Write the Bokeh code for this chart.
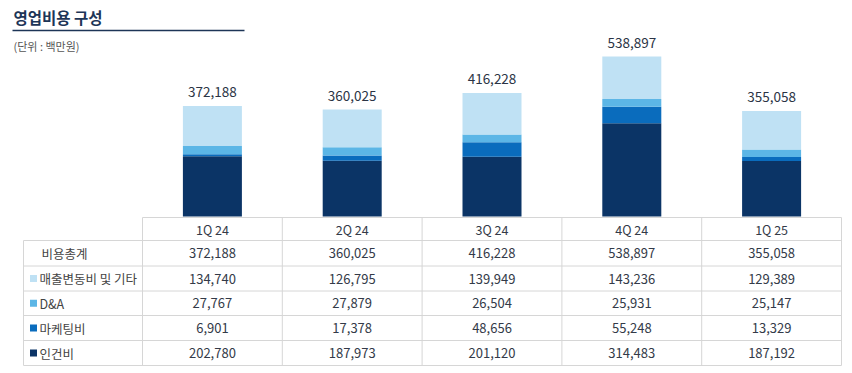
from bokeh.plotting import figure
from bokeh.models import Range1d, ColumnDataSource
from bokeh.core.properties import value
from bokeh.embed import file_html
from bokeh.resources import INLINE

# ---------------- data ----------------
quarters = ["1Q 24", "2Q 24", "3Q 24", "4Q 24", "1Q 25"]
labor = [202780, 187973, 201120, 314483, 187192]        # 인건비
marketing = [6901, 17378, 48656, 55248, 13329]         # 마케팅비
dna = [27767, 27879, 26504, 25931, 25147]              # D&A
variable = [134740, 126795, 139949, 143236, 129389]    # 매출변동비 및 기타
totals = [372188, 360025, 416228, 538897, 355058]      # 비용총계

series_names = ["인건비", "마케팅비", "D&A", "매출변동비 및 기타"]
series_vals = [labor, marketing, dna, variable]
colors = ["#0b3466", "#0a6cbd", "#5cb6e6", "#bfe1f4"]

title = "영업비용 구성"
unit = "(단위 : 백만원)"
total_label = "비용총계"

FONT = "Noto Sans CJK KR"

# ---------------- layout (screen pixels) ----------------
W, H = 844, 367
top, bottom = 0, H
base_y = 216            # bar baseline (screen y)
k = 160 / 538897        # px per unit
col_left = 142
col_w = 139.8
label_left = 23
row_edges = [217, 240, 265.5, 290.5, 315, 340, 365]

p = figure(width=W, height=H, output_backend="svg", toolbar_location=None,
           x_range=Range1d(0, W),
           y_range=Range1d(-(bottom - base_y) / k, (base_y - top) / k),
           min_border=0, min_border_left=0, min_border_right=0,
           min_border_top=0, min_border_bottom=0)
p.extra_y_ranges = {"px": Range1d(start=bottom, end=top)}
p.xaxis.visible = False
p.yaxis.visible = False
p.grid.visible = False
p.outline_line_color = None
p.background_fill_color = "white"
p.border_fill_color = "white"

centers = [col_left + (i + 0.5) * col_w for i in range(len(quarters))]

# ---------------- stacked bars ----------------
data = {"x": centers}
for n, v in zip(series_names, series_vals):
    data[n] = v
src = ColumnDataSource(data)
p.vbar_stack(series_names, x="x", width=59, color=colors, line_color=None, source=src)

tot_src = ColumnDataSource(dict(x=centers, y=totals, t=[f"{v:,}" for v in totals]))
p.text(x="x", y="y", text="t", source=tot_src, text_align="center",
       text_baseline="middle", y_offset=-14, text_font=value(FONT),
       text_font_size="13.5px", text_color="#2b3445")

# ---------------- title ----------------
p.text(x=[13], y=[16], text=[title], y_range_name="px", text_font=value(FONT),
       text_font_size="15.5px", text_font_style="bold", text_color="#1d3557",
       text_baseline="middle")
p.line(x=[12, 244], y=[30, 30], y_range_name="px", line_color="#1d3557", line_width=1.5)
p.text(x=[13], y=[45], text=[unit], y_range_name="px", text_font=value(FONT),
       text_font_size="11px", text_color="#555555", text_baseline="middle")

# ---------------- table ----------------
grid_c = "#d6d6d6"
right = col_left + col_w * len(quarters)
p.line(x=[col_left, right], y=[row_edges[0]] * 2, y_range_name="px", line_color=grid_c, line_width=1)
for yy in row_edges[1:]:
    p.line(x=[label_left, right], y=[yy, yy], y_range_name="px", line_color=grid_c, line_width=1)
p.line(x=[label_left, label_left], y=[row_edges[1], row_edges[-1]], y_range_name="px",
       line_color=grid_c, line_width=1)
for i in range(len(quarters) + 1):
    xx = col_left + i * col_w
    p.line(x=[xx, xx], y=[row_edges[0], row_edges[-1]], y_range_name="px",
           line_color=grid_c, line_width=1)

row_mid = [(row_edges[i] + row_edges[i + 1]) / 2 for i in range(len(row_edges) - 1)]

p.text(x=centers, y=[row_mid[0]] * len(quarters), text=quarters, y_range_name="px",
       text_align="center", text_baseline="middle", text_font=value(FONT),
       text_font_size="12.5px", text_color="#333a48")

table_rows = [totals, variable, dna, marketing, labor]
row_labels = [total_label] + series_names[::-1]
row_colors = [None] + colors[::-1]
for r, (vals, lab, c) in enumerate(zip(table_rows, row_labels, row_colors)):
    ym = row_mid[r + 1]
    p.text(x=centers, y=[ym] * len(vals), text=[f"{v:,}" for v in vals], y_range_name="px",
           text_align="center", text_baseline="middle", text_font=value(FONT),
           text_font_size="13px", text_color="#333a48")
    if c is None:
        p.text(x=[41], y=[ym], text=[lab], y_range_name="px", text_baseline="middle",
               text_font=value(FONT), text_font_size="12.5px", text_color="#444444")
    else:
        p.scatter(x=[33], y=[ym], marker="square", size=7, y_range_name="px",
                  fill_color=c, line_color=None)
        p.text(x=[39], y=[ym], text=[lab], y_range_name="px", text_baseline="middle",
               text_font=value(FONT), text_font_size="12.5px", text_color="#444444")

open("out.html", "w").write(file_html(p, INLINE))
